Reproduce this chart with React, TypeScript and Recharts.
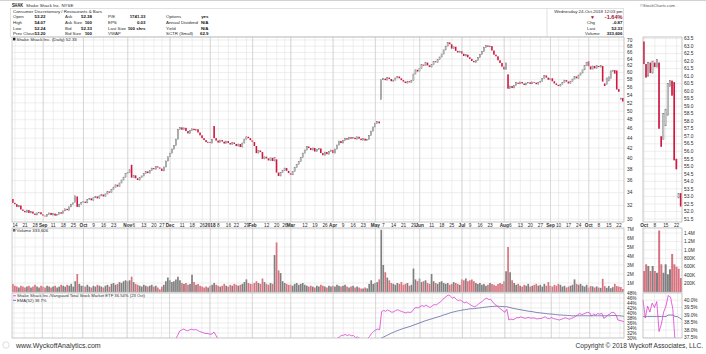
import React from 'react';
import { ComposedChart, Bar, Line, XAxis, YAxis, CartesianGrid, ReferenceLine, Cell } from 'recharts';

const FONT = '"Liberation Sans", Arial, sans-serif';

// ---------- categories ----------
const MONTHS = ['Jan', 'Feb', 'Mar', 'Apr', 'May', 'Jun', 'Jul', 'Aug', 'Sep', 'Oct', 'Nov', 'Dec'];
const HOLIDAYS = ['2017-09-04', '2017-11-23', '2017-12-25', '2018-01-01', '2018-01-15', '2018-02-19', '2018-03-30', '2018-05-28', '2018-07-04', '2018-09-03'];
const FIRST_DAY = '2017-08-11';
const LAST_DAY = '2018-10-24';

// ---------- series values (daily) ----------
const closes = [
  32.4, 32.2, 31.8, 32.0, 31.4, 31.2, 31.0, 31.3, 30.9, 31.1,
  30.8, 30.6, 30.9, 31.0, 30.7, 30.5, 30.4, 30.7, 30.9, 30.6,
  30.8, 30.5, 30.7, 31.0, 30.8, 31.2, 31.5, 31.3, 31.8, 32.2,
  32.4, 33.5, 31.8, 32.2, 32.5, 32.6, 32.4, 32.9, 33.1, 32.8,
  33.2, 33.4, 33.1, 33.5, 33.7, 33.4, 33.8, 34.2, 34.0, 34.5,
  34.9, 35.3, 35.0, 35.6, 36.1, 36.6, 37.2, 37.4, 37.9, 36.5,
  36.9, 36.4, 36.1, 36.5, 36.8, 37.2, 37.6, 37.3, 37.8, 38.2,
  38.0, 38.5, 38.3, 38.1, 37.7, 38.4, 39.5, 40.3, 41.0, 41.8,
  42.5, 43.8, 45.9, 46.3, 45.8, 46.2, 45.5, 45.0, 45.6, 46.0,
  45.7, 45.9, 45.2, 44.6, 44.0, 43.6, 43.2, 43.2, 43.0, 43.7,
  44.0, 43.5, 43.1, 43.6, 43.3, 42.9, 43.4, 43.0, 42.7, 43.1,
  42.8, 42.4, 42.8, 42.2, 43.0, 43.8, 44.3, 44.0, 43.6, 43.2,
  42.4, 41.0, 41.5, 41.2, 39.9, 40.3, 40.0, 39.6, 40.1, 39.5,
  40.2, 37.4, 36.8, 37.4, 37.8, 38.2, 37.7, 37.3, 37.0, 37.6,
  38.3, 38.9, 39.4, 40.2, 41.0, 41.6, 42.3, 42.0, 41.6, 42.0,
  41.3, 41.7, 41.9, 41.0, 40.6, 41.2, 40.8, 41.3, 41.6, 41.0,
  41.8, 42.6, 43.4, 43.0, 43.5, 44.0, 43.7, 44.2, 43.9, 44.1,
  43.8, 44.3, 43.9, 43.6, 43.9, 43.5, 43.7, 44.6, 45.5, 46.4,
  47.2, 47.6, 47.2, 58.0, 58.3, 57.9, 58.6, 58.2, 57.6, 57.9,
  58.5, 58.9, 58.4, 57.9, 57.5, 57.1, 57.6, 57.3, 57.8, 59.6,
  60.8, 60.3, 61.2, 62.3, 62.0, 62.9, 62.1, 61.6, 62.4, 63.3,
  63.0, 63.8, 64.6, 65.5, 66.8, 68.0, 69.2, 68.6, 67.2, 67.8,
  66.5, 66.0, 66.4, 65.6, 64.9, 65.3, 64.5, 64.0, 63.4, 63.0,
  63.6, 64.5, 65.4, 66.3, 67.5, 68.2, 67.8, 68.0, 66.6, 65.3,
  64.8, 63.6, 62.8, 61.7, 60.9, 62.8, 55.6, 56.3, 55.8, 56.5,
  57.2, 56.9, 57.4, 57.0, 56.6, 57.1, 57.3, 56.9, 57.4, 57.2,
  56.8, 57.3, 57.6, 58.3, 59.2, 58.6, 58.0, 58.4, 57.6, 57.0,
  56.6, 56.3, 56.8, 57.3, 57.9, 57.5, 57.0, 57.6, 58.2, 58.9,
  58.4, 59.3, 59.9, 60.8, 62.0, 62.9, 61.8, 60.9, 61.9, 61.2,
  62.0, 61.6, 62.1, 57.5, 56.3, 58.5, 58.8, 60.5, 60.7, 59.7,
  55.4, 54.8, 53.2, 52.33,
];

const opens = [
  33.0, 32.4, 32.2, 31.8, 32.0, 31.4, 31.2, 31.0, 31.3, 30.9,
  31.1, 30.8, 30.6, 30.9, 31.0, 30.7, 30.5, 30.4, 30.7, 30.9,
  30.6, 30.8, 30.5, 30.7, 31.0, 30.8, 31.2, 31.5, 31.3, 31.8,
  32.2, 32.5, 33.4, 31.8, 32.2, 32.5, 32.6, 32.4, 32.9, 33.1,
  32.8, 33.2, 33.4, 33.1, 33.5, 33.7, 33.4, 33.8, 34.2, 34.0,
  34.5, 34.9, 35.3, 35.0, 35.6, 36.1, 36.6, 37.2, 37.4, 38.8,
  36.5, 36.9, 36.4, 36.1, 36.5, 36.8, 37.2, 37.6, 37.3, 37.8,
  38.2, 38.0, 38.5, 38.3, 38.1, 37.7, 38.4, 39.5, 40.3, 41.0,
  41.8, 42.5, 43.8, 45.9, 46.3, 45.8, 46.2, 45.5, 45.0, 45.6,
  46.0, 45.7, 45.9, 45.2, 44.6, 44.0, 43.6, 43.2, 43.2, 43.0,
  46.6, 44.0, 43.5, 43.1, 43.6, 43.3, 42.9, 43.4, 43.0, 42.7,
  43.1, 42.8, 42.4, 42.8, 42.2, 43.0, 43.8, 44.3, 44.0, 43.6,
  43.2, 42.4, 41.0, 41.5, 41.2, 39.9, 40.3, 40.0, 39.6, 40.1,
  39.5, 39.8, 37.4, 36.8, 37.4, 37.8, 38.2, 37.7, 37.3, 37.0,
  37.6, 38.3, 38.9, 39.4, 40.2, 41.0, 41.6, 42.3, 42.0, 41.6,
  42.0, 41.3, 41.7, 41.9, 41.0, 40.6, 41.2, 40.8, 41.3, 41.6,
  41.0, 41.8, 42.6, 43.4, 43.0, 43.5, 44.0, 43.7, 44.2, 43.9,
  44.1, 43.8, 44.3, 43.9, 43.6, 43.9, 43.5, 43.7, 44.6, 45.5,
  46.4, 47.2, 47.6, 52.8, 58.0, 58.3, 57.9, 58.6, 58.2, 57.6,
  57.9, 58.5, 58.9, 58.4, 57.9, 57.5, 57.1, 57.6, 57.3, 57.8,
  59.6, 60.8, 60.3, 61.2, 62.3, 62.0, 62.9, 62.1, 61.6, 62.4,
  63.3, 63.0, 63.8, 64.6, 65.5, 66.8, 68.0, 69.2, 68.6, 67.2,
  67.8, 66.5, 66.0, 66.4, 65.6, 64.9, 65.3, 64.5, 64.0, 63.4,
  63.0, 63.6, 64.5, 65.4, 66.3, 67.5, 68.2, 67.8, 68.0, 66.6,
  65.3, 64.8, 63.6, 62.8, 61.7, 60.9, 59.5, 55.6, 56.3, 55.8,
  56.5, 57.2, 56.9, 57.4, 57.0, 56.6, 57.1, 57.3, 56.9, 57.4,
  57.2, 56.8, 57.3, 57.6, 58.3, 59.2, 58.6, 58.0, 58.4, 57.6,
  57.0, 56.6, 56.3, 56.8, 57.3, 57.9, 57.5, 57.0, 57.6, 58.2,
  58.9, 58.4, 59.3, 59.9, 60.8, 62.0, 63.3, 61.8, 61.0, 61.9,
  61.2, 61.9, 61.6, 61.9, 57.0, 56.8, 57.7, 58.4, 60.3, 60.7,
  60.6, 55.5, 52.9, 53.22,
];

// volume in millions of shares
const volumes = [
  0.9, 0.7, 0.6, 0.5, 0.7, 0.6, 0.5, 0.6, 0.7, 0.5,
  0.6, 0.8, 0.6, 0.5, 0.7, 0.6, 0.5, 0.7, 0.6, 0.5,
  0.6, 0.7, 0.5, 0.6, 0.8, 0.7, 0.6, 0.8, 0.7, 0.9,
  0.6, 1.2, 2.0, 0.9, 0.7, 0.7, 0.6, 0.8, 0.6, 0.5,
  0.7, 0.6, 0.8, 0.7, 0.6, 0.5, 0.7, 0.8, 0.6, 0.9,
  1.0, 0.8, 0.9, 1.1, 1.0, 1.2, 1.3, 1.2, 1.3, 1.7,
  1.1, 0.9, 0.8, 0.7, 0.6, 0.8, 0.7, 0.6, 0.7, 0.8,
  0.6, 0.7, 0.5, 0.3, 0.6, 0.8, 1.2, 1.6, 1.3, 1.1,
  1.2, 1.4, 1.7, 1.3, 1.0, 0.9, 1.0, 0.8, 0.9, 1.9,
  1.1, 0.8, 0.9, 0.7, 0.6, 0.5, 0.6, 0.5, 0.7, 0.8,
  1.0, 0.8, 0.7, 0.6, 0.7, 0.9, 0.7, 0.6, 0.8, 0.7,
  0.9, 0.8, 0.7, 0.8, 0.9, 1.1, 1.4, 1.0, 0.9, 0.9,
  1.0, 1.2, 1.0, 0.9, 1.5, 1.1, 0.9, 0.8, 1.0, 0.9,
  4.1, 5.5, 2.4, 2.1, 1.2, 1.0, 0.9, 0.8, 0.8, 0.7,
  0.9, 1.0, 0.8, 0.9, 1.0, 0.8, 0.7, 0.6, 0.7, 0.6,
  0.5, 0.7, 0.6, 0.8, 0.7, 0.6, 0.5, 0.7, 0.6, 0.7,
  0.6, 0.8, 0.7, 0.6, 0.7, 0.8, 0.6, 0.5, 0.6, 0.7,
  0.5, 0.6, 0.5, 0.4, 0.4, 0.5, 0.4, 0.9, 1.3, 0.9,
  1.0, 1.1, 1.4, 6.9, 3.0, 2.2, 1.6, 1.3, 1.0, 0.9,
  0.8, 1.0, 0.9, 1.1, 0.8, 0.9, 1.0, 0.7, 0.8, 2.6,
  1.4, 1.2, 1.5, 1.1, 1.2, 1.3, 1.0, 0.9, 2.0, 1.2,
  1.0, 0.9, 1.1, 1.2, 1.0, 0.9, 1.0, 0.8, 0.9, 1.1,
  1.0, 0.9, 0.8, 1.4, 1.3, 1.5, 1.2, 1.3, 1.4, 1.2,
  1.0, 0.9, 1.0, 0.8, 0.9, 0.7, 0.8, 1.0, 0.9, 0.8,
  0.7, 0.9, 1.0, 0.9, 1.2, 2.3, 5.0, 2.2, 1.3, 1.0,
  0.8, 0.9, 0.7, 0.6, 0.8, 0.7, 0.9, 0.6, 0.7, 0.8,
  0.9, 0.7, 0.8, 0.6, 0.9, 0.7, 1.1, 0.7, 0.6, 0.8,
  0.7, 0.9, 0.8, 0.6, 0.7, 0.5, 0.6, 0.7, 0.8, 1.4,
  0.9, 0.8, 0.9, 0.7, 0.6, 0.8, 0.50, 0.66, 0.62, 0.50,
  0.62, 0.50, 0.46, 1.46, 0.66, 0.46, 0.66, 0.42, 0.54, 0.90,
  0.66, 0.60, 0.55, 0.334,
];

// relative strength SHAK:VTI (%), two visible stretches
const rsStartA = 78;
const rsA = [
  27.5, 28.2, 28.8, 29.5, 31.0, 32.8, 33.2, 33.6, 33.1, 32.9,
  33.3, 33.5, 33.2, 33.4, 33.0, 32.6, 32.3, 32.0, 31.8, 31.8,
  31.5, 31.6, 32.4, 31.0, 29.5,
];
const rsStartB = 160;
const rsB = [
  29.0, 29.8, 30.4, 31.0, 31.1, 31.4, 31.0, 31.3, 30.9, 31.0,
  30.2, 30.4, 29.9, 29.6, 29.8, 29.4, 29.7, 30.6, 31.8, 32.6,
  33.2, 33.6, 33.3, 40.6, 41.0, 40.7, 41.2, 40.8, 40.3, 40.5,
  41.0, 41.3, 40.9, 40.6, 40.3, 40.0, 40.4, 40.2, 40.5, 41.7,
  42.2, 42.0, 42.5, 43.0, 42.6, 43.2, 42.6, 42.2, 42.8, 43.4,
  43.2, 43.8, 44.4, 45.1, 46.0, 46.6, 47.2, 46.8, 46.0, 46.3,
  45.4, 45.0, 45.2, 44.6, 44.1, 44.4, 43.8, 43.3, 42.8, 42.5,
  42.9, 43.6, 44.2, 44.8, 45.5, 45.9, 45.4, 45.5, 44.4, 43.5,
  43.0, 42.2, 41.6, 40.9, 40.3, 41.5, 37.2, 37.6, 37.3, 37.7,
  38.2, 38.1, 38.5, 38.1, 37.9, 38.1, 38.2, 37.9, 38.1, 37.9,
  37.6, 37.8, 37.8, 38.2, 38.5, 37.9, 37.7, 38.2, 37.8, 37.6,
  37.4, 37.2, 37.5, 37.8, 38.1, 37.8, 37.5, 37.9, 38.2, 38.6,
  39.2, 39.8, 39.4, 39.6, 40.0, 40.3, 40.0, 38.8, 39.6, 39.2,
  39.8, 39.5, 39.9, 37.9, 38.4, 39.2, 39.6, 40.3, 40.2, 39.4,
  37.2, 37.0, 36.8, 36.5,
];
const emaStart = 180;
const ema = [
  29.2, 29.4, 29.6, 30.0, 30.4, 30.8, 31.2, 31.6, 32.0, 32.3,
  32.7, 33.0, 33.3, 33.6, 33.9, 34.1, 34.4, 34.6, 34.9, 35.2,
  35.5, 35.8, 36.1, 36.4, 36.7, 37.0, 37.2, 37.5, 37.7, 38.0,
  38.2, 38.5, 38.7, 39.0, 39.3, 39.5, 39.8, 40.1, 40.3, 40.5,
  40.7, 40.9, 41.0, 41.2, 41.3, 41.4, 41.6, 41.7, 41.7, 41.8,
  41.9, 42.0, 42.1, 42.2, 42.3, 42.4, 42.5, 42.6, 42.6, 42.7,
  42.7, 42.7, 42.6, 42.6, 42.5, 42.5, 42.3, 42.1, 41.9, 41.7,
  41.6, 41.4, 41.3, 41.1, 41.0, 40.8, 40.7, 40.6, 40.5, 40.3,
  40.2, 40.1, 40.0, 39.9, 39.8, 39.7, 39.6, 39.6, 39.5, 39.4,
  39.3, 39.2, 39.2, 39.1, 39.1, 39.0, 39.0, 38.9, 38.9, 38.9,
  38.9, 38.9, 38.9, 38.9, 38.9, 38.9, 38.9, 38.9, 38.9, 38.9,
  38.9, 38.9, 38.9, 38.9, 38.9, 38.9, 38.9, 39.0, 39.0, 39.0,
  38.9, 38.9, 38.8, 38.7,
];

// ---------- axis tick values ----------
const priceTicks = [30, 32, 34, 36, 38, 40, 42, 44, 46, 48, 50, 52, 54, 56, 58, 60, 62, 64, 66, 68, 70];
const volTicks = [1, 2, 3, 4, 5, 6, 7];
const rsTicks = [30, 32, 34, 36, 38, 40, 42, 44, 46, 48];
const zoomPriceTicks = [51.5, 52, 52.5, 53, 53.5, 54, 54.5, 55, 55.5, 56, 56.5, 57, 57.5, 58, 58.5, 59, 59.5, 60, 60.5, 61, 61.5, 62, 62.5, 63, 63.5];
const zoomVolTicks = [0.2, 0.4, 0.6, 0.8, 1.0, 1.2, 1.4];
const zoomRsTicks = [37.5, 38, 38.5, 39, 39.5, 40];
const ZOOM_FROM = 286;

// ---------- build categories ----------
type Day = { y: number; m: number; d: number; dow: number };
function buildDays(): Day[] {
  const out: Day[] = [];
  const cur = new Date(FIRST_DAY + 'T00:00:00Z');
  const end = new Date(LAST_DAY + 'T00:00:00Z').getTime();
  while (cur.getTime() <= end) {
    const dow = cur.getUTCDay();
    const iso = cur.toISOString().slice(0, 10);
    if (dow !== 0 && dow !== 6 && HOLIDAYS.indexOf(iso) < 0) {
      out.push({ y: cur.getUTCFullYear(), m: cur.getUTCMonth(), d: cur.getUTCDate(), dow });
    }
    cur.setUTCDate(cur.getUTCDate() + 1);
  }
  return out;
}
const days = buildDays();

const monthStarts: number[] = [];
for (let i = 1; i < days.length; i++) if (days[i].m !== days[i - 1].m) monthStarts.push(i);

const xTicks: number[] = [];
const xLabels: Record<number, { t: string; b: boolean }> = {};
for (let i = 1; i < days.length; i++) {
  const c = days[i];
  const p = days[i - 1];
  if (monthStarts.indexOf(i) >= 0) {
    xTicks.push(i);
    xLabels[i] = { t: c.m === 0 ? String(c.y) : MONTHS[c.m], b: true };
  } else if (c.dow < p.dow) {
    const near = monthStarts.some((m) => Math.abs(m - i) <= 2);
    if (!near) {
      xTicks.push(i);
      xLabels[i] = { t: String(c.d), b: false };
    }
  }
}
const zoomTicks = xTicks.filter((i) => i >= ZOOM_FROM);

const rsAt = (i: number) => {
  if (i >= rsStartA && i < rsStartA + rsA.length) return rsA[i - rsStartA];
  if (i >= rsStartB && i < rsStartB + rsB.length) return rsB[i - rsStartB];
  return null;
};
const emaAt = (i: number) => (i >= emaStart && i < emaStart + ema.length ? ema[i - emaStart] : null);

const data = days.map((_, i) => ({
  i,
  o: opens[i],
  c: closes[i],
  body: [Math.min(opens[i], closes[i]), Math.max(opens[i], closes[i])],
  v: volumes[i],
  down: i === 0 ? closes[i] < opens[i] : closes[i] < closes[i - 1],
  rs: rsAt(i),
  ema: emaAt(i),
}));
const zoomData = data.slice(ZOOM_FROM);

// ---------- styles ----------
const RED = '#cf1740';
const UP = '#6a6a6a';
const VRED = '#d8747f';
const VGRAY = '#808080';
const PINK = '#dc3fd2';
const EMA_C = '#5f64a3';
const GRID = '#e3e3e3';
const TXT = '#2a2a2a';
const tickStyle = { fontSize: 4.8, fill: TXT, fontFamily: FONT };

const Candle = (p: any) => {
  let { x, y, width, height } = p;
  const payload = p.payload;
  if (height < 0) {
    y += height;
    height = -height;
  }
  const h = Math.max(height, 0.7);
  const up = payload.c >= payload.o;
  if (up) {
    return <rect x={x + 0.3} y={y} width={Math.max(width - 0.6, 0.6)} height={h} fill="#ffffff" stroke={UP} strokeWidth={0.55} />;
  }
  return <rect x={x} y={y} width={width} height={h} fill={RED} />;
};

const XTick = (p: any) => {
  const { x, y, payload } = p;
  const lab = xLabels[payload.value];
  if (!lab) return null;
  return (
    <text x={x} y={y + 2.6} textAnchor="middle" fontSize={4.7} fontFamily={FONT} fontWeight={lab.b ? 700 : 400} fill={TXT}>
      {lab.t}
    </text>
  );
};

const PriceAxisX = (ticks: number[]) => (
  <XAxis dataKey="i" type="category" ticks={ticks} interval={0} tick={<XTick />} tickLine={false} axisLine={false} height={6} tickSize={0} tickMargin={2} />
);

const PAD = 4; // extra room around each plot so edge labels are not clipped

function App() {
  const mainW = 612 + 24;
  const zoomW = 39 + 22;
  const mm = { top: PAD, right: 0, bottom: PAD, left: 0 };
  const mmPrice = { top: PAD, right: 0, bottom: 0, left: 0 };
  const zm = { top: PAD, right: 0, bottom: PAD, left: PAD };
  const zmPrice = { top: PAD, right: 0, bottom: 0, left: PAD };
  return (
    <div style={{ position: 'absolute', left: 0, top: 0, width: 706, height: 354, background: '#fff', overflow: 'hidden', fontFamily: FONT }}>
      {/* main price */}
      <div style={{ position: 'absolute', left: 12, top: 37 - PAD }}>
        <ComposedChart width={mainW} height={191 + PAD} data={data} margin={mmPrice} barCategoryGap={0}>
          <CartesianGrid stroke={GRID} strokeWidth={0.6} />
          {PriceAxisX(xTicks)}
          <YAxis orientation="right" scale="log" domain={[29.6, 71]} ticks={priceTicks} allowDataOverflow width={24} tickSize={0} tickMargin={3} tickLine={false} axisLine={false} tick={tickStyle} interval={0} />
          {monthStarts.map((i) => (
            <ReferenceLine key={i} x={i} stroke="#c9c9c9" strokeWidth={0.6} />
          ))}
          <Bar dataKey="body" shape={Candle} isAnimationActive={false} barSize={1.6} />
        </ComposedChart>
      </div>
      {/* main volume */}
      <div style={{ position: 'absolute', left: 12, top: 228 - PAD }}>
        <ComposedChart width={mainW} height={64 + 2 * PAD} data={data} margin={mm} barCategoryGap={0}>
          <CartesianGrid stroke={GRID} strokeWidth={0.6} />
          <XAxis dataKey="i" type="category" ticks={xTicks} interval={0} hide />
          <YAxis orientation="right" domain={[0, 7.1]} ticks={volTicks} allowDataOverflow width={24} tickSize={0} tickMargin={3} tickLine={false} axisLine={false} tick={tickStyle} interval={0} tickFormatter={(v: number) => `${v}M`} />
          {monthStarts.map((i) => (
            <ReferenceLine key={i} x={i} stroke="#c9c9c9" strokeWidth={0.6} />
          ))}
          <Bar dataKey="v" isAnimationActive={false} barSize={1.7}>
            {data.map((d, k) => (
              <Cell key={k} fill={d.down ? VRED : VGRAY} />
            ))}
          </Bar>
        </ComposedChart>
      </div>
      {/* main RS */}
      <div style={{ position: 'absolute', left: 12, top: 293 - PAD }}>
        <ComposedChart width={mainW} height={45 + 2 * PAD} data={data} margin={mm}>
          <CartesianGrid stroke={GRID} strokeWidth={0.6} />
          <XAxis dataKey="i" type="category" ticks={xTicks} interval={0} hide />
          <YAxis orientation="right" domain={[30, 48]} ticks={rsTicks} allowDataOverflow width={24} tickSize={0} tickMargin={3} tickLine={false} axisLine={false} tick={tickStyle} interval={0} tickFormatter={(v: number) => `${v}%`} />
          {monthStarts.map((i) => (
            <ReferenceLine key={i} x={i} stroke="#c9c9c9" strokeWidth={0.6} />
          ))}
          <Line dataKey="ema" stroke={EMA_C} strokeWidth={0.8} dot={false} isAnimationActive={false} connectNulls={false} />
          <Line dataKey="rs" stroke={PINK} strokeWidth={0.8} dot={false} isAnimationActive={false} connectNulls={false} />
        </ComposedChart>
      </div>

      {/* zoom price */}
      <div style={{ position: 'absolute', left: 643 - PAD, top: 37 - PAD }}>
        <ComposedChart width={zoomW + PAD} height={191 + PAD} data={zoomData} margin={zmPrice} barCategoryGap={0}>
          <CartesianGrid stroke={GRID} strokeWidth={0.6} />
          {PriceAxisX(zoomTicks)}
          <YAxis orientation="right" domain={[51.3, 63.6]} ticks={zoomPriceTicks} allowDataOverflow width={22} tickSize={0} tickMargin={2} tickLine={false} axisLine={false} tick={tickStyle} interval={0} tickFormatter={(v: number) => v.toFixed(1)} />
          <Bar dataKey="body" shape={Candle} isAnimationActive={false} barSize={1.7} />
        </ComposedChart>
      </div>
      {/* zoom volume */}
      <div style={{ position: 'absolute', left: 643 - PAD, top: 228 - PAD }}>
        <ComposedChart width={zoomW + PAD} height={64 + 2 * PAD} data={zoomData} margin={zm} barCategoryGap={0}>
          <CartesianGrid stroke={GRID} strokeWidth={0.6} />
          <XAxis dataKey="i" type="category" ticks={zoomTicks} interval={0} hide />
          <YAxis orientation="right" domain={[0, 1.52]} ticks={zoomVolTicks} allowDataOverflow width={22} tickSize={0} tickMargin={2} tickLine={false} axisLine={false} tick={tickStyle} interval={0} tickFormatter={(v: number) => (v < 1 ? `${Math.round(v * 1000)}K` : `${v.toFixed(1)}M`)} />
          <Bar dataKey="v" isAnimationActive={false} barSize={2}>
            {zoomData.map((d, k) => (
              <Cell key={k} fill={d.down ? VRED : VGRAY} />
            ))}
          </Bar>
        </ComposedChart>
      </div>
      {/* zoom RS */}
      <div style={{ position: 'absolute', left: 643 - PAD, top: 293 - PAD }}>
        <ComposedChart width={zoomW + PAD} height={45 + 2 * PAD} data={zoomData} margin={zm}>
          <CartesianGrid stroke={GRID} strokeWidth={0.6} />
          <XAxis dataKey="i" type="category" ticks={zoomTicks} interval={0} hide />
          <YAxis orientation="right" domain={[37.47, 40.47]} ticks={zoomRsTicks} allowDataOverflow width={22} tickSize={0} tickMargin={2} tickLine={false} axisLine={false} tick={tickStyle} interval={0} tickFormatter={(v: number) => `${v.toFixed(1)}%`} />
          <Line dataKey="ema" stroke={EMA_C} strokeWidth={0.8} dot={false} isAnimationActive={false} />
          <Line dataKey="rs" stroke={PINK} strokeWidth={0.8} dot={false} isAnimationActive={false} />
        </ComposedChart>
      </div>

      {/* overlay: borders and texts */}
      <svg width={706} height={354} style={{ position: 'absolute', left: 0, top: 0, pointerEvents: 'none' }} fontFamily={FONT}>
        <line x1={0} y1={0.5} x2={706} y2={0.5} stroke="#d2d2d2" strokeWidth={1} />
        <rect x={10.5} y={8.5} width={613} height={28.5} fill="none" stroke="#cfcfcf" strokeWidth={0.6} />
        <line x1={547} y1={8.5} x2={547} y2={37} stroke="#cfcfcf" strokeWidth={0.6} />
        {/* panel frames */}
        <rect x={12} y={37} width={612} height={185} fill="none" stroke="#b4b4b4" strokeWidth={0.6} />
        <rect x={12} y={228} width={612} height={64} fill="none" stroke="#b4b4b4" strokeWidth={0.6} />
        <rect x={12} y={293} width={612} height={45} fill="none" stroke="#b4b4b4" strokeWidth={0.6} />
        <rect x={643} y={37} width={39} height={185} fill="none" stroke="#b4b4b4" strokeWidth={0.6} />
        <rect x={643} y={228} width={39} height={64} fill="none" stroke="#b4b4b4" strokeWidth={0.6} />
        <rect x={643} y={293} width={39} height={45} fill="none" stroke="#b4b4b4" strokeWidth={0.6} />

        {/* header left */}
        <text x={12} y={7.4} fontSize={5.4} fontWeight={700} fill="#111" textLength={11} lengthAdjust="spacingAndGlyphs">SHAK</text>
        <text x={26} y={7.2} fontSize={4.4} fill={TXT}>Shake Shack Inc.  NYSE</text>
        <text x={13} y={12.8} fontSize={4.4} fill={TXT}>Consumer Discretionary / Restaurants &amp; Bars</text>
        {[
          ['Open', '53.22', 'Ask', '52.38', 'P/E', '1741.33', 'Options', 'yes'],
          ['High', '54.07', 'Ask Size', '100', 'EPS', '0.03', 'Annual Dividend', 'N/A'],
          ['Low', '52.24', 'Bid', '52.33', 'Last Size', '100 shrs', 'Yield', 'N/A'],
          ['Prev Close', '53.20', 'Bid Size', '100', 'VWAP', '', 'SCTR (Small)', '62.9'],
        ].map((r, k) => {
          const y = 18.3 + k * 5.6;
          return (
            <g key={k} fontSize={4.4}>
              <text x={13} y={y} fill={TXT}>{r[0]}</text>
              <text x={45.5} y={y} textAnchor="end" fontWeight={700} fill="#111">{r[1]}</text>
              <text x={65} y={y} fill={TXT}>{r[2]}</text>
              <text x={92} y={y} textAnchor="end" fontWeight={700} fill="#111">{r[3]}</text>
              <text x={108} y={y} fill={TXT}>{r[4]}</text>
              <text x={145.5} y={y} textAnchor="end" fontWeight={700} fill="#111">{r[5]}</text>
              <text x={166} y={y} fill={TXT}>{r[6]}</text>
              <text x={208.5} y={y} textAnchor="end" fontWeight={700} fill="#111">{r[7]}</text>
            </g>
          );
        })}
        {/* header right */}
        <text x={675} y={6.6} textAnchor="end" fontSize={4.2} fill="#555">©StockCharts.com</text>
        <text x={622.5} y={12.6} textAnchor="end" fontSize={4.4} fill={TXT}>Wednesday 24-Oct-2018 12:03 pm</text>
        <text x={590} y={18.6} fontSize={5} fill="#a3122f">▼</text>
        <text x={622.5} y={18.8} textAnchor="end" fontSize={5.6} fontWeight={700} fill="#a3122f">-1.64%</text>
        <text x={587} y={24.2} fontSize={4.4} fill={TXT}>Chg</text>
        <text x={622.5} y={24.2} textAnchor="end" fontSize={4.4} fontWeight={700} fill="#111">-0.87</text>
        <text x={587} y={29.7} fontSize={4.4} fill={TXT}>Last</text>
        <text x={622.5} y={29.7} textAnchor="end" fontSize={4.4} fontWeight={700} fill="#111">52.33</text>
        <text x={585} y={35.2} fontSize={4.4} fill={TXT}>Volume</text>
        <text x={622.5} y={35.2} textAnchor="end" fontSize={4.4} fontWeight={700} fill="#111">333,606</text>

        {/* panel legends */}
        <rect x={13} y={37.8} width={2.4} height={2.6} fill="#222" />
        <text x={16.5} y={40.5} fontSize={4.4} fill={TXT}>Shake Shack Inc. (Daily) 52.33</text>
        <rect x={13} y={229} width={2.4} height={2.6} fill="#666" />
        <text x={16.5} y={231.8} fontSize={4.4} fill={TXT}>Volume 333,606</text>
        <line x1={13} y1={295.8} x2={16} y2={295.8} stroke={PINK} strokeWidth={0.9} />
        <text x={17} y={297.2} fontSize={4.2} fill={TXT}>Shake Shack Inc./Vanguard Total Stock Market ETF 36.54% (23 Oct)</text>
        <line x1={13} y1={300.3} x2={16} y2={300.3} stroke={EMA_C} strokeWidth={0.9} />
        <text x={17} y={301.7} fontSize={4.2} fill={TXT}>EMA(52) 38.7%</text>

        {/* footer */}
        <circle cx={6} cy={345} r={3.2} fill="none" stroke="#c8c8c8" strokeWidth={0.6} />
        <text x={16} y={347.5} fontSize={7} fill="#333">www.WyckoffAnalytics.com</text>
        <text x={703} y={347.5} textAnchor="end" fontSize={6.6} fill="#333">Copyright © 2018 Wyckoff Associates, LLC.</text>
      </svg>
    </div>
  );
}

export default App;
